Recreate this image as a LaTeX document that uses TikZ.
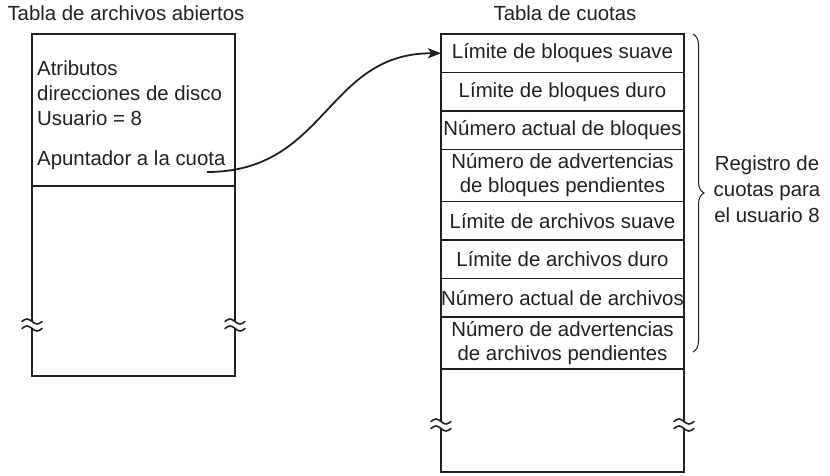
\documentclass[tikz,border=0pt]{standalone}
\usepackage{fontspec}
\setmainfont{Liberation Sans}
\usetikzlibrary{arrows.meta, positioning, decorations.pathreplacing}
\definecolor{ink}{HTML}{231F20}
\tikzset{
  font=\fontsize{20.4}{24}\selectfont,
  >={Stealth[length=13pt, width=10pt, inset=3pt]},
  %
  frame/.style={draw=ink, line width=1.8pt},
  cell/.style={frame, minimum width=243pt, inner sep=0pt, outer sep=0pt,
               align=center, text=ink},
  lbl/.style={text=ink, inner sep=0pt},
  ptrline/.style={draw=ink, line width=1.8pt, ->},
  brc/.style={draw=ink, line width=1pt, decorate,
              decoration={brace, amplitude=11pt}},
  %
  brk/.pic={
    \fill[white] (-4,-3.5) rectangle (4,3.5);
    \foreach \dy in {3.5,-3.5}
      \draw[ink, line width=1.6pt, line cap=round]
        (-10,\dy) sin (-5,\dy+2.5) cos (0,\dy) sin (5,\dy-2.5) cos (10,\dy);
  },
}

\begin{document}
\begin{tikzpicture}[x=1pt, y=1pt]
  \useasboundingbox (0,0) rectangle (830,476);

  % titles
  \node[lbl, anchor=base] (ttlfiles) at (126,455) {Tabla de archivos abiertos};
  \node[lbl, anchor=base] (ttlquota) at (565,455) {Tabla de cuotas};

  % open file table
  \draw[frame] (32,442) rectangle (235,290);
  \draw[frame] (32,290) rectangle (235,100);
  \foreach \i/\y/\txt in {1/400/Atributos, 2/375/direcciones de disco,
                          3/350/Usuario = 8} {
    \node[lbl, anchor=base west] (attr\i) at (37,\y) {\txt};
  }
  \node[lbl, anchor=base west] (ptr) at (37,310) {Apuntador a la cuota};
  \pic at (32,151) {brk};
  \pic at (235,151) {brk};

  % quota table
  \foreach \i/\y/\h/\txt in {
      1/422.75/38.5/{Límite de bloques suave},
      2/384.25/38.5/{Límite de bloques duro},
      3/345.75/38.5/{Número actual de bloques},
      4/300.5/52/{Número de advertencias\\de bloques pendientes},
      5/255.25/38.5/{Límite de archivos suave},
      6/216.75/38.5/{Límite de archivos duro},
      7/178.25/38.5/{Número actual de archivos},
      8/133/52/{Número de advertencias\\de archivos pendientes}} {
    \node[cell, minimum height=\h pt] (r\i) at (562.5,\y) {\txt};
  }
  \draw[frame] (441,107) rectangle (684,4);
  \pic at (441,51) {brk};
  \pic at (684,51) {brk};

  % pointer into the quota record
  \coordinate (tail) at (207,304);
  \draw[ptrline] (tail) .. controls +(120,0) and +(-115,0) .. (r1.west);

  % record brace
  \draw[brc] ([xshift=9pt]r1.north east) -- ([xshift=9pt, yshift=17pt]r8.south east);
  \node[lbl, align=center, font=\fontsize{20.4}{26}\selectfont]
    (rec) at (767,287) {Registro de\\cuotas para\\el usuario 8};

\end{tikzpicture}
\end{document}
